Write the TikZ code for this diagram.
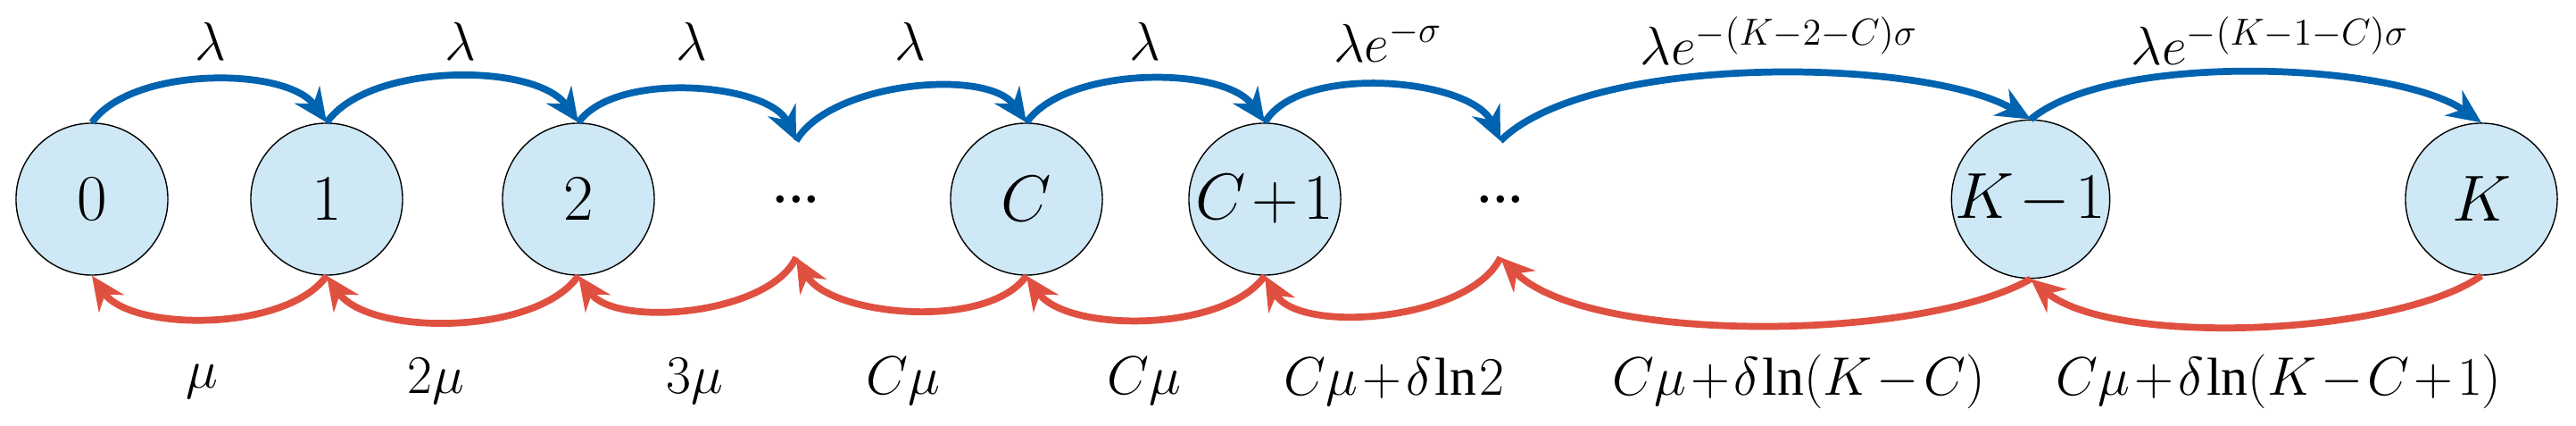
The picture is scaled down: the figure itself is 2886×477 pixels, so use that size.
\documentclass[tikz,border=0pt]{standalone}
\usepackage{fontspec}
\setmainfont{Liberation Serif}
\usetikzlibrary{arrows.meta}
\definecolor{nfill}{RGB}{206,232,246}
\definecolor{ablue}{RGB}{0,99,176}
\definecolor{ared}{RGB}{224,80,64}
\medmuskip=1.5mu \thickmuskip=2mu \thinmuskip=1mu
\begin{document}
\begin{tikzpicture}[x=0.01cm,y=-0.01cm,
  st/.style={circle,draw=black,fill=nfill,minimum size=1.7cm,inner sep=0pt,font=\fontsize{20}{24}\selectfont},
  dt/.style={minimum height=1.29cm,minimum width=0.2cm,inner sep=0pt,font=\fontsize{20}{24}\selectfont},
  lb/.style={font=\fontsize{17}{20}\selectfont},
  up/.style={draw=ablue,line width=2.2pt,looseness=0.75,-{Stealth[length=0.38cm,width=0.34cm]}},
  dn/.style={draw=ared,line width=2.2pt,looseness=0.75,-{Stealth[length=0.38cm,width=0.34cm]}}]
\useasboundingbox (0,0) rectangle (2886,477);
\node[st] (n0) at (103,223) {$0$};
\node[st] (n1) at (366,223) {$1$};
\node[st] (n2) at (648,223) {$2$};
\node[dt] (d1) at (892,223) {...};
\node[st] (nC) at (1150,223) {$C$};
\node[st] (nC1) at (1417,223) {$C+1$};
\node[dt] (d2) at (1681,223) {...};
\node[st] (nK1) at (2275,223) {$K-1$};
\node[st] (nK) at (2780,223) {$K$};
% top arcs
\draw[up] (n0.north) to[out=55,in=125] (n1.north);
\draw[up] (n1.north) to[out=55,in=125] (n2.north);
\draw[up] (n2.north) to[out=55,in=115] (d1.north);
\draw[up] (d1.north) to[out=60,in=125] (nC.north);
\draw[up] (nC.north) to[out=55,in=125] (nC1.north);
\draw[up] (nC1.north) to[out=60,in=115] (d2.north);
\draw[up] (d2.north) to[out=45,in=150,looseness=0.6] (nK1.north);
\draw[up] (nK1.north) to[out=40,in=145,looseness=0.6] (nK.north);
% bottom arcs
\draw[dn] (n1.south) to[out=-125,in=-55] (n0.south);
\draw[dn] (n2.south) to[out=-125,in=-55] (n1.south);
\draw[dn] (d1.south) to[out=-115,in=-55] (n2.south);
\draw[dn] (nC.south) to[out=-125,in=-60] (d1.south);
\draw[dn] (nC1.south) to[out=-125,in=-55] (nC.south);
\draw[dn] (d2.south) to[out=-115,in=-60] (nC1.south);
\draw[dn] (nK1.south) to[out=-150,in=-45,looseness=0.6] (d2.south);
\draw[dn] (nK.south) to[out=-145,in=-40,looseness=0.6] (nK1.south);
% labels
\node[lb] (t1) at (236,46) {$\lambda$};
\node[lb] (t2) at (516,46) {$\lambda$};
\node[lb] (t3) at (775,46) {$\lambda$};
\node[lb] (t4) at (1020,46) {$\lambda$};
\node[lb] (t5) at (1283,46) {$\lambda$};
\node[lb] (t6) at (1555,46) {$\lambda e^{-\sigma}$};
\node[lb] (t7) at (1993,46) {$\lambda e^{-(K-2-C)\sigma}$};
\node[lb] (t8) at (2543,46) {$\lambda e^{-(K-1-C)\sigma}$};
\node[lb] (b1) at (226,427) {$\mu$};
\node[lb] (b2) at (488,427) {$2\mu$};
\node[lb] (b3) at (778,427) {$3\mu$};
\node[lb] (b4) at (1012,427) {$C\mu$};
\node[lb] (b5) at (1282,427) {$C\mu$};
\node[lb] (b6) at (1562,427) {$C\mu+\delta\ln 2$};
\node[lb] (b7) at (2015,427) {$C\mu+\delta\ln(K-C)$};
\node[lb] (b8) at (2553,427) {$C\mu+\delta\ln(K-C+1)$};
\end{tikzpicture}
\end{document}
